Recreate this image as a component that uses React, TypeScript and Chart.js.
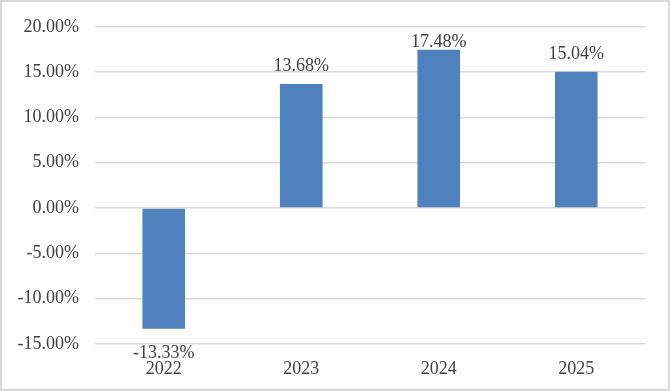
import React, { useEffect, useRef } from "react";
import { Chart, registerables } from "chart.js";

Chart.register(...registerables);

const categories = ["2022", "2023", "2024", "2025"];
const values = [-13.33, 13.68, 17.48, 15.04];
const yMin = -15;
const yMax = 20;
const yStep = 5;

const FONT_FAMILY = "'Times New Roman', 'Liberation Serif', serif";
const TEXT_COLOR = "#404040";
const BAR_COLOR = "#4F81BD";
const GRID_COLOR = "#D9D9D9";
const FONT_SIZE = 18;

const valueLabelPlugin = {
  id: "valueLabels",
  afterDatasetsDraw(chart: any) {
    const ctx = chart.ctx;
    const meta = chart.getDatasetMeta(0);
    const top = chart.chartArea.top;
    ctx.save();
    ctx.font = `${FONT_SIZE}px ${FONT_FAMILY}`;
    ctx.fillStyle = TEXT_COLOR;
    ctx.textAlign = "center";
    ctx.textBaseline = "alphabetic";
    meta.data.forEach((bar: any, i: number) => {
      const v = values[i];
      const text = v.toFixed(2) + "%";
      if (v >= 0) {
        ctx.fillText(text, bar.x, Math.max(bar.y - 13, top + 20));
      } else {
        ctx.fillText(text, bar.x, bar.y + 29);
      }
    });
    ctx.restore();
  },
};

export default function App() {
  const canvasRef = useRef<HTMLCanvasElement | null>(null);

  useEffect(() => {
    document.body.style.margin = "0";
    const canvas = canvasRef.current;
    if (!canvas) return;
    const chart = new Chart(canvas, {
      type: "bar",
      data: {
        labels: categories,
        datasets: [
          {
            data: values,
            backgroundColor: BAR_COLOR,
            borderWidth: 0,
            categoryPercentage: 1,
            barPercentage: 0.31,
          },
        ],
      },
      options: {
        responsive: false,
        animation: false,
        devicePixelRatio: 1,
        layout: { padding: { top: 23, right: 25, bottom: 0, left: 0 } },
        plugins: {
          legend: { display: false },
          tooltip: { enabled: false },
        },
        scales: {
          x: {
            type: "category",
            grid: { display: false },
            border: { display: false },
            ticks: {
              color: TEXT_COLOR,
              font: { family: FONT_FAMILY, size: FONT_SIZE },
              padding: 6,
              maxRotation: 0,
            },
            afterFit(scale: any) {
              scale.height = 47;
            },
          },
          y: {
            min: yMin,
            max: yMax,
            border: { display: false },
            grid: { color: GRID_COLOR, lineWidth: 1.5, drawTicks: false },
            ticks: {
              stepSize: yStep,
              color: TEXT_COLOR,
              font: { family: FONT_FAMILY, size: FONT_SIZE },
              padding: 16,
              callback: (v: any) => Number(v).toFixed(2) + "%",
            },
            afterFit(scale: any) {
              scale.width = 95;
            },
          },
        },
      },
      plugins: [valueLabelPlugin],
    });
    return () => chart.destroy();
  }, []);

  return (
    <div
      style={{
        position: "relative",
        width: 670,
        height: 391,
        background: "#fff",
        boxShadow: `inset 0 0 0 2px ${GRID_COLOR}`,
      }}
    >
      <canvas ref={canvasRef} width={670} height={391} style={{ display: "block" }} />
    </div>
  );
}
